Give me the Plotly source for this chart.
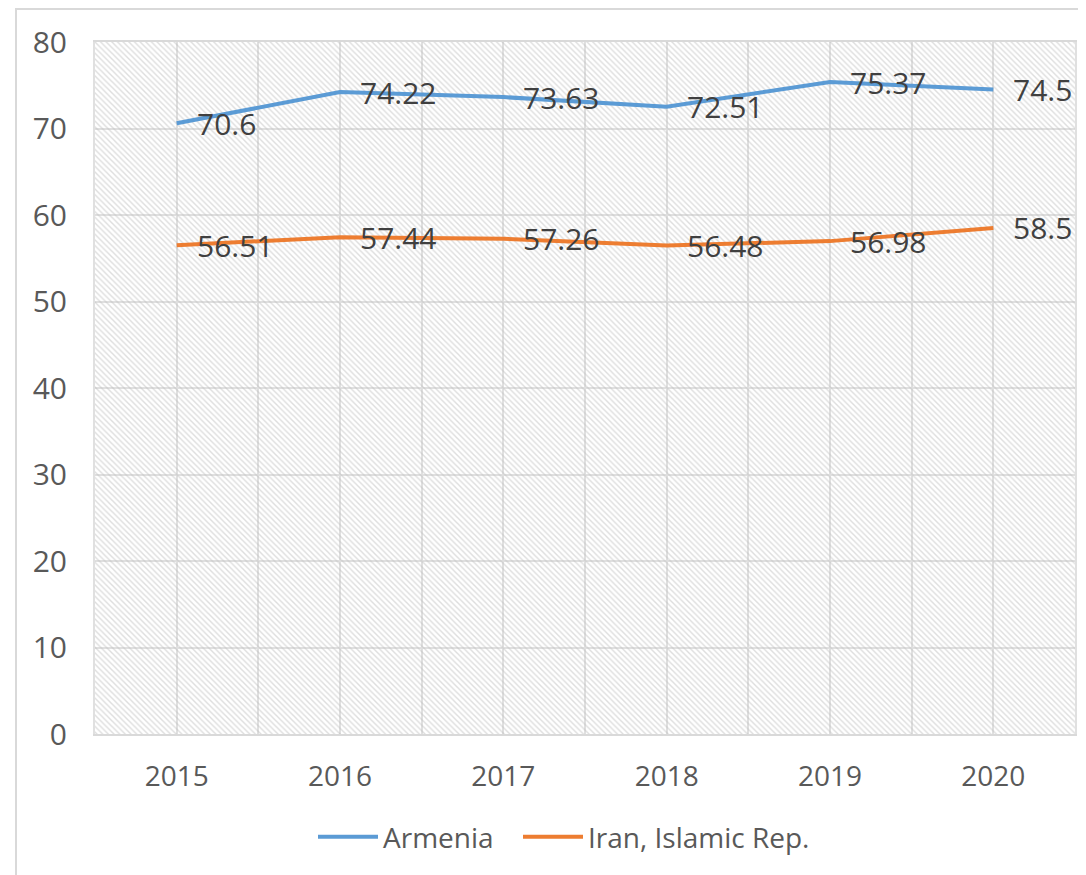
import plotly.graph_objects as go

years = ["2015", "2016", "2017", "2018", "2019", "2020"]
armenia = [70.6, 74.22, 73.63, 72.51, 75.37, 74.5]
iran = [56.51, 57.44, 57.26, 56.48, 56.98, 58.5]

series = [
    ("Armenia", armenia, "#5B9BD5", "legend", 313),
    ("Iran, Islamic Rep.", iran, "#ED7D31", "legend2", 518),
]

FONT = "Open Sans"
OFF = 8  # page body margin
W, H = 1086 - OFF, 875 - OFF
ml, mr, mt, mb = 95 - OFF, 11, 42 - OFF, 141
pw = W - ml - mr
ph = H - mt - mb

xs = list(range(len(years)))
xr = [-0.5, len(years) - 0.5]
yr = [0, 80]


def px_to_paper_x(p):
    return (p - OFF - ml) / pw


def px_to_paper_y(p):
    return (H - mb - (p - OFF)) / ph


fig = go.Figure()

# hatched plot-area background
fig.add_trace(go.Scatter(
    x=[xr[0], xr[1], xr[1], xr[0], xr[0]],
    y=[yr[0], yr[0], yr[1], yr[1], yr[0]],
    mode="none", fill="toself",
    fillcolor="rgba(0,0,0,0)",
    fillpattern=dict(shape="\\", fgcolor="#bdbdbd", bgcolor="rgba(0,0,0,0)",
                     size=4, solidity=0.35),
    hoverinfo="skip", showlegend=False,
))

annotations = []
legends = {}
for name, vals, color, leg, lx in series:
    fig.add_trace(go.Scatter(
        x=xs, y=vals, name=name, mode="lines", legend=leg,
        line=dict(color=color, width=4),
    ))
    legends[leg] = dict(
        orientation="h", x=px_to_paper_x(lx), xanchor="left",
        y=px_to_paper_y(837), yanchor="middle",
        font=dict(family=FONT, size=28, color="#595959"),
        itemwidth=60, bgcolor="rgba(0,0,0,0)",
    )
    for x, v in zip(xs, vals):
        annotations.append(dict(
            x=x, y=v, text=f"{v:g}", showarrow=False,
            xanchor="left", yanchor="middle", xshift=18,
            font=dict(family=FONT, size=30, color="#404040"),
        ))

# outer chart border
fig.add_shape(
    type="rect", xref="paper", yref="paper",
    x0=px_to_paper_x(16), x1=px_to_paper_x(1100),
    y0=px_to_paper_y(890), y1=px_to_paper_y(9),
    line=dict(color="#d9d9d9", width=2), fillcolor="rgba(0,0,0,0)",
    layer="below",
)

fig.update_layout(
    width=W, height=H,
    margin=dict(l=ml, r=mr, t=mt, b=mb, autoexpand=False),
    paper_bgcolor="white", plot_bgcolor="white",
    font=dict(family=FONT, size=28, color="#595959"),
    annotations=annotations,
    xaxis=dict(
        range=xr, tickmode="array", tickvals=xs, ticktext=years,
        showgrid=True, gridcolor="#e0e0e0", gridwidth=2,
        minor=dict(tickmode="linear", tick0=0.5, dtick=1, showgrid=True,
                   gridcolor="#e0e0e0", gridwidth=2),
        showline=True, linecolor="#d9d9d9", linewidth=2, mirror=True,
        ticks="", ticklabelstandoff=16, zeroline=False, automargin=False,
        tickfont=dict(family=FONT, size=28, color="#595959"),
    ),
    yaxis=dict(
        range=yr, dtick=10, showgrid=True, gridcolor="#e0e0e0", gridwidth=2,
        showline=True, linecolor="#e0e0e0", linewidth=2, mirror=True,
        zeroline=False, ticks="", ticklabelstandoff=20, automargin=False,
        tickfont=dict(family=FONT, size=30, color="#595959"),
    ),
    **legends,
)

fig.write_html("out.html")
